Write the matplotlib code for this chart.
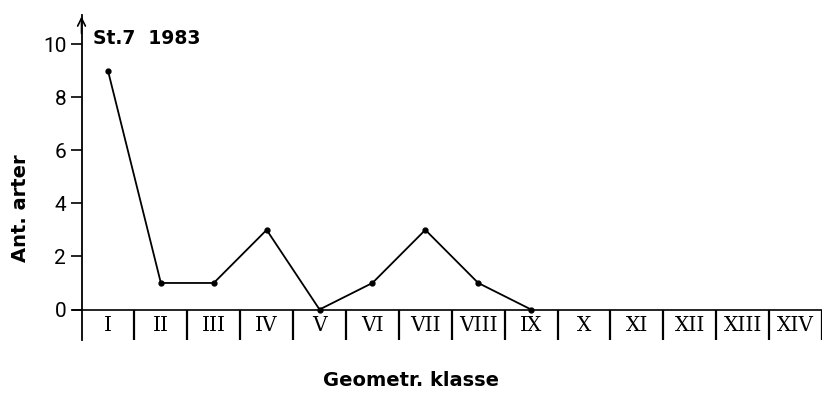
import numpy as np
import matplotlib
matplotlib.use("Agg")
import matplotlib.pyplot as plt

# geometric classes and number of species per class (St.7, 1983)
klasser = ["I", "II", "III", "IV", "V", "VI", "VII",
           "VIII", "IX", "X", "XI", "XII", "XIII", "XIV"]
ant_arter = [9, 1, 1, 3, 0, 1, 3, 1, 0]
yticks = [0, 2, 4, 6, 8, 10]

fig = plt.figure(figsize=(8.22, 3.94), dpi=100)
ax = fig.add_axes([0.0876, 0.137, 0.9124, 0.825])
ax.set_xlim(-0.68, 13.5)
ax.set_ylim(-1.15, 11.1)

for s in ["top", "right", "bottom"]:
    ax.spines[s].set_visible(False)
ax.spines["left"].set_position(("data", -0.5))
ax.spines["left"].set_linewidth(1.3)

# x axis line and class separators
ax.axhline(0, color="black", lw=1.2)
x = np.arange(len(klasser))
ax.vlines(x + 0.5, -1.15, 0, color="black", lw=1.6)

# arrow on top of y axis
ax.annotate("", xy=(-0.5, 11.15), xytext=(-0.5, 10.3),
            arrowprops=dict(arrowstyle="->", lw=1.2, color="black",
                            mutation_scale=14), annotation_clip=False)

ax.set_xticks([])
ax.set_yticks(yticks)
ax.set_yticklabels([str(v) for v in yticks],
                   family=["Roboto", "DejaVu Sans"], fontsize=15)
ax.tick_params(axis="y", length=8, width=1.2, pad=3)

for i, lab in enumerate(klasser):
    ax.text(i, -0.6, lab, ha="center", va="center",
            family="DejaVu Serif", fontsize=14.5)

ax.plot(x[:len(ant_arter)], ant_arter, color="black", lw=1.3,
        marker="o", markersize=3.5)

ax.text(-0.28, 10.2, "St.7  1983", fontsize=13.5, fontweight="bold",
        ha="left", va="center")

ax.set_ylabel("Ant. arter", fontsize=14, fontweight="bold")
ax.yaxis.set_label_coords(-0.056, 0.405)
fig.text(0.5, 0.033, "Geometr. klasse", fontsize=14, fontweight="bold",
         ha="center", va="center")

fig.savefig("out.png", dpi=100, facecolor="white")
